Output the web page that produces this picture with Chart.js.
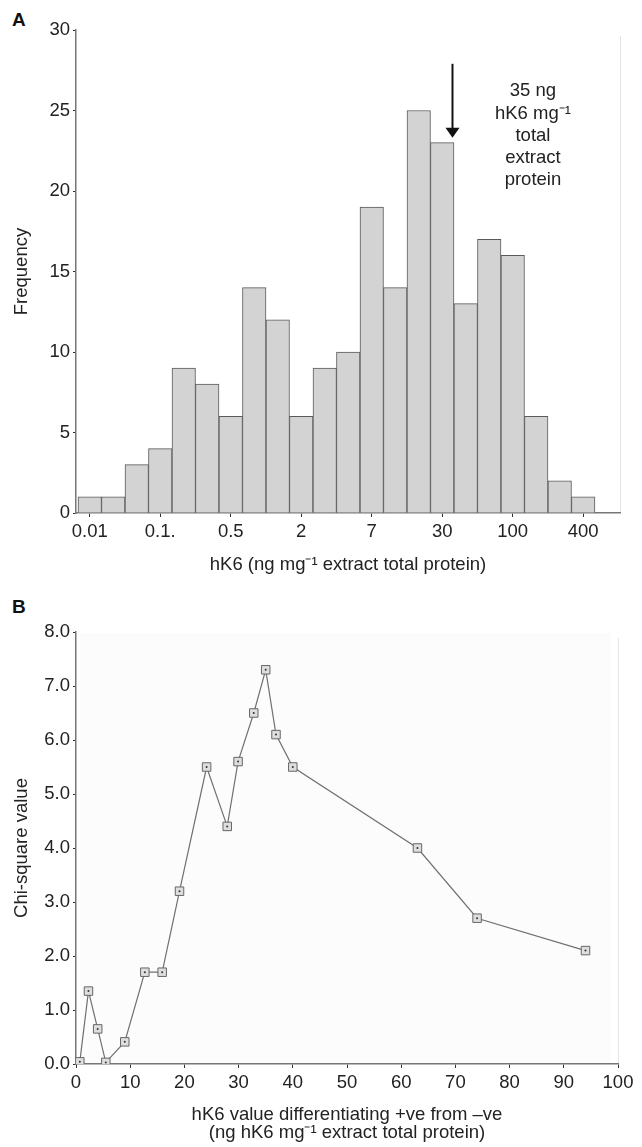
<!DOCTYPE html>
<html>
<head>
<meta charset="utf-8">
<script src="https://cdn.jsdelivr.net/npm/chart.js@4.4.1/dist/chart.umd.min.js"></script>
<style>
body { margin: 0; background: #fff; }
#wrap { position: relative; width: 642px; height: 1147px; font-family: "Liberation Sans", Arial, sans-serif; }
.panel { position: absolute; left: 12px; font-weight: bold; font-size: 19px; line-height: 20px; color: #111; }
#histA { position: absolute; left: 0; top: 0; }
#chiB { position: absolute; left: 0; top: 590px; }
</style>
</head>
<body>
<div id="wrap">
  <div class="panel" style="top:10px">A</div>
  <div class="panel" style="top:597px">B</div>
  <canvas id="histA" width="642" height="600"></canvas>
  <canvas id="chiB" width="642" height="557"></canvas>
</div>
<script>
// panel A: frequency per hK6 bin
var histCounts = [1, 1, 3, 4, 9, 8, 6, 14, 12, 6, 9, 10, 19, 14, 25, 23, 13, 17, 16, 6, 2, 1];
var binTickIdx = [0, 3, 6, 9, 12, 15, 18, 21];
var binTickLabels = ['0.01', '0.1.', '0.5', '2', '7', '30', '100', '400'];
var cutoffBin = 15.42;         // where 35 ng falls on the bin axis
var noteLines = ['35 ng', 'hK6 mg\u207B\u00B9', 'total', 'extract', 'protein'];

// panel B: chi-square vs cut-off value
var cutoffValues = [0.7, 2.3, 4, 5.5, 9, 12.7, 15.9, 19.1, 24.1, 27.9, 29.9, 32.8, 35, 36.9, 40, 63, 74, 94];
var chiSquare = [0.04, 1.35, 0.65, 0.03, 0.41, 1.7, 1.7, 3.2, 5.5, 4.4, 5.6, 6.5, 7.3, 6.1, 5.5, 4.0, 2.7, 2.1];

var FONT = '"Liberation Sans", Arial, sans-serif';
var TXT = '#222';
Chart.defaults.font.family = FONT;
Chart.defaults.font.size = 18.5;
Chart.defaults.color = TXT;
Chart.defaults.animation = false;

var rightEdge = {
    id: 'rightEdge',
    beforeDraw: function (chart, args, opts) {
        var a = chart.chartArea, ctx = chart.ctx;
        ctx.save();
        if (opts.fill) {
            ctx.fillStyle = opts.fill;
            ctx.fillRect(a.left + 4, a.top + 1, a.right - a.left - 11, a.bottom - a.top - 2);
        }
        ctx.strokeStyle = '#e4e4e4';
        ctx.lineWidth = 1;
        ctx.beginPath();
        ctx.moveTo(a.right + 0.5, a.top + 6);
        ctx.lineTo(a.right + 0.5, a.bottom);
        ctx.stroke();
        ctx.restore();
    }
};

var cutoffNote = {
    id: 'cutoffNote',
    afterDraw: function (chart) {
        var x = chart.scales.x, y = chart.scales.y, ctx = chart.ctx;
        var ax = Math.round(x.getPixelForValue(cutoffBin)) + 0.5;
        var y0 = y.getPixelForValue(27.9), y1 = y.getPixelForValue(23.3);
        ctx.save();
        ctx.strokeStyle = '#111';
        ctx.fillStyle = '#111';
        ctx.lineWidth = 2;
        ctx.beginPath();
        ctx.moveTo(ax, y0);
        ctx.lineTo(ax, y1 - 8);
        ctx.stroke();
        ctx.beginPath();
        ctx.moveTo(ax - 7, y1 - 10);
        ctx.lineTo(ax + 7, y1 - 10);
        ctx.lineTo(ax, y1);
        ctx.closePath();
        ctx.fill();

        ctx.fillStyle = TXT;
        ctx.font = '18.5px ' + FONT;
        ctx.textAlign = 'center';
        ctx.textBaseline = 'middle';
        var tx = x.getPixelForValue(18.86), ty = y.getPixelForValue(26.2);
        noteLines.forEach(function (s, i) {
            ctx.fillText(s, tx, ty + i * 22.3);
        });
        ctx.restore();
    }
};

var histChart = new Chart('histA', {
    type: 'bar',
    data: {
        datasets: [{
            data: histCounts.map(function (v, i) { return { x: i, y: v }; }),
            backgroundColor: '#d3d3d3',
            borderColor: '#5a5a5a',
            borderWidth: 1,
            barPercentage: 1,
            categoryPercentage: 1
        }]
    },
    options: {
        responsive: false,
        layout: { padding: { top: 30, right: 22, left: 0, bottom: 0 } },
        plugins: { legend: { display: false }, tooltip: { enabled: false }, rightEdge: {} },
        scales: {
            x: {
                type: 'linear',
                offset: false,
                min: -0.585,
                max: 22.565,
                afterBuildTicks: function (s) {
                    s.ticks = binTickIdx.map(function (v) { return { value: v }; });
                },
                afterFit: function (s) { s.height = 87; },
                ticks: {
                    autoSkip: false,
                    maxRotation: 0,
                    padding: 4,
                    callback: function (v) {
                        var k = binTickIdx.indexOf(v);
                        return k < 0 ? '' : binTickLabels[k];
                    }
                },
                grid: { offset: false, drawOnChartArea: false, tickLength: 4, tickColor: '#333' },
                border: { color: '#777', width: 1.5 },
                title: {
                    display: true,
                    text: 'hK6 (ng mg\u207B\u00B9 extract total protein)',
                    padding: { top: 0, bottom: 24 }
                }
            },
            y: {
                min: 0,
                max: 30,
                afterFit: function (s) { s.width = 76; },
                ticks: { stepSize: 5, padding: 3 },
                grid: { drawOnChartArea: false, tickLength: 3, tickColor: '#333' },
                border: { color: '#777', width: 1.5 },
                title: { display: true, text: 'Frequency', padding: { top: 11, bottom: 0 } }
            }
        }
    },
    plugins: [rightEdge, cutoffNote]
});

var chiChart = new Chart('chiB', {
    type: 'line',
    data: {
        datasets: [{
            data: cutoffValues.map(function (v, i) { return { x: v, y: chiSquare[i] }; }),
            borderColor: '#707070',
            borderWidth: 1.2,
            pointStyle: 'rect',
            pointRadius: 6,
            pointBorderColor: '#666',
            pointBackgroundColor: '#dedede',
            pointBorderWidth: 1,
            order: 1
        }, {
            data: cutoffValues.map(function (v, i) { return { x: v, y: chiSquare[i] }; }),
            showLine: false,
            pointRadius: 1,
            pointBorderWidth: 0,
            pointBackgroundColor: '#333',
            order: 0
        }]
    },
    options: {
        responsive: false,
        layout: { padding: { top: 42, right: 24, left: 0, bottom: 0 } },
        plugins: { legend: { display: false }, tooltip: { enabled: false }, rightEdge: { fill: '#fcfcfc' } },
        scales: {
            x: {
                type: 'linear',
                min: 0,
                max: 100,
                afterFit: function (s) { s.height = 83; },
                ticks: { stepSize: 10, maxRotation: 0, padding: 4 },
                grid: { drawOnChartArea: false, tickLength: 4, tickColor: '#333' },
                border: { color: '#777', width: 1.5 },
                title: {
                    display: true,
                    text: ['hK6 value differentiating +ve from \u2013ve', '(ng hK6 mg\u207B\u00B9 extract total protein)'],
                    font: { size: 18.5, lineHeight: 0.97 },
                    padding: { top: 0, bottom: 5 }
                }
            },
            y: {
                min: 0,
                max: 8,
                afterFit: function (s) { s.width = 76; },
                ticks: {
                    stepSize: 1,
                    padding: 3,
                    callback: function (v) { return v.toFixed(1); }
                },
                grid: { drawOnChartArea: false, tickLength: 3, tickColor: '#333' },
                border: { color: '#777', width: 1.5 },
                title: { display: true, text: 'Chi-square value', padding: { top: 11, bottom: 0 } }
            }
        }
    },
    plugins: [rightEdge]
});
</script>
</body>
</html>
